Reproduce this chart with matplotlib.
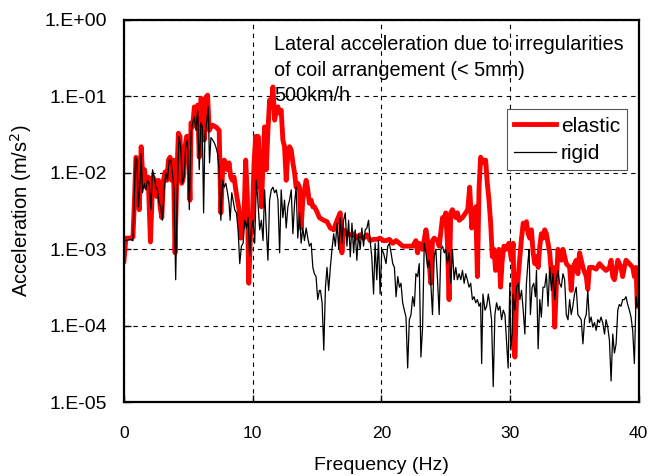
import numpy as np
import matplotlib
matplotlib.use("Agg")
import matplotlib.pyplot as plt
from matplotlib.ticker import FixedLocator, FuncFormatter, NullLocator

plt.rcParams['font.family'] = ['Liberation Sans', 'DejaVu Sans']
plt.rcParams['font.size'] = 13

# elastic (red) spectrum
freq_elastic = [0.0, 0.15, 0.49, 0.70, 0.83, 0.93, 1.03, 1.19, 1.34, 1.47, 1.60, 1.73, 1.88, 2.06, 2.24, 2.40,
                2.55, 2.68, 2.81, 2.94, 3.07, 3.20, 3.33, 3.46, 3.58, 3.71, 3.84, 3.97, 4.10, 4.23, 4.36, 4.49,
                4.62, 4.75, 4.87, 5.00, 5.13, 5.21, 5.34, 5.47, 5.60, 5.73, 5.85, 5.98, 6.11, 6.24, 6.37, 6.50,
                6.63, 6.76, 6.89, 7.14, 7.40, 7.53, 7.66, 7.79, 7.92, 8.05, 8.17, 8.30, 8.43, 8.56, 8.69, 8.82,
                8.95, 9.08, 9.21, 9.34, 9.46, 9.59, 9.70, 9.85, 9.98, 10.11, 10.24, 10.29, 10.42, 10.55, 10.68,
                10.81, 10.93, 11.06, 11.19, 11.32, 11.45, 11.58, 11.71, 11.84, 11.97, 12.10, 12.22, 12.35, 12.48,
                12.61, 12.74, 12.87, 13.00, 13.13, 13.26, 13.38, 13.51, 13.64, 13.77, 13.90, 14.03, 14.16, 14.29,
                14.41, 14.55, 14.68, 14.80, 14.93, 15.19, 15.53, 15.78, 16.04, 16.30, 16.56, 16.81, 16.94, 17.07,
                17.33, 17.59, 17.85, 18.10, 18.36, 18.62, 18.88, 19.13, 19.40, 19.65, 19.91, 20.17, 20.37, 20.63,
                20.89, 21.15, 21.41, 21.66, 21.92, 22.18, 22.44, 22.69, 22.82, 22.95, 23.21, 23.47, 23.60, 23.73,
                23.85, 23.98, 24.11, 24.37, 24.50, 24.76, 24.89, 25.01, 25.14, 25.27, 25.40, 25.53, 25.79, 25.92,
                26.05, 26.31, 26.56, 26.72, 26.87, 27.03, 27.21, 27.34, 27.47, 27.60, 27.72, 27.85, 27.98, 28.11,
                28.24, 28.37, 28.50, 28.63, 28.76, 28.88, 29.01, 29.14, 29.27, 29.40, 29.53, 29.66, 29.92, 30.12,
                30.25, 30.38, 30.51, 30.64, 30.90, 31.03, 31.16, 31.28, 31.41, 31.54, 31.67, 31.80, 31.93, 32.06,
                32.19, 32.32, 32.44, 32.57, 32.70, 32.83, 32.96, 33.09, 33.22, 33.35, 33.48, 33.60, 33.73, 33.99,
                34.12, 34.38, 34.64, 34.76, 34.89, 35.15, 35.28, 35.41, 35.67, 35.93, 36.05, 36.18, 36.44, 36.70,
                36.96, 37.21, 37.47, 37.73, 37.86, 37.99, 38.12, 38.38, 38.63, 38.76, 38.89, 39.02, 39.28, 39.54,
                39.67, 39.80, 39.90]
acc_elastic = [7.0e-4, 1.4e-3, 1.4e-3, 1.45e-3, 5.0e-3, 1.6e-2, 1.5e-2, 3.3e-3, 2.2e-2, 8.0e-3, 1.1e-2, 6.5e-3,
               8.8e-3, 1.25e-3, 8.8e-3, 8.0e-3, 4.9e-3, 8.0e-3, 3.6e-3, 2.6e-3, 8.0e-3, 1.03e-2, 8.0e-3, 1.47e-2,
               1.6e-2, 8.0e-3, 1.47e-2, 9.0e-4, 8.0e-3, 3.3e-2, 3.0e-2, 7.3e-3, 8.8e-3, 2.2e-2, 3.0e-2, 3.0e-2,
               4.4e-3, 4.5e-2, 4.0e-2, 7.3e-2, 4.9e-2, 7.7e-2, 1.6e-2, 9.5e-2, 9.0e-2, 2.7e-2, 9.8e-2, 1.04e-1,
               3.6e-2, 4.0e-2, 4.2e-2, 4.0e-2, 3.6e-2, 3.0e-3, 1.0e-2, 1.47e-2, 1.35e-2, 1.1e-2, 1.35e-2, 8.8e-3,
               8.0e-3, 8.8e-3, 6.0e-3, 4.4e-3, 3.3e-3, 1.4e-3, 2.2e-3, 3.0e-3, 1.47e-2, 4.9e-3, 3.6e-4, 1.9e-3,
               2.4e-3, 1.35e-2, 3.0e-2, 6.5e-3, 3.0e-2, 1.1e-2, 3.6e-3, 1.35e-2, 4.0e-2, 1.1e-2, 3.6e-2, 9.0e-2,
               7.3e-2, 1.33e-1, 4.9e-2, 6.6e-2, 7.3e-2, 6.0e-2, 6.6e-2, 2.7e-2, 2.2e-2, 8.0e-3, 1.8e-2, 2.2e-2,
               2.0e-2, 1.35e-2, 1.0e-2, 6.5e-3, 7.3e-3, 6.5e-3, 1.9e-3, 4.4e-3, 6.0e-3, 8.0e-3, 6.0e-3, 4.0e-3,
               4.4e-3, 3.6e-3, 3.6e-3, 3.3e-3, 2.6e-3, 2.4e-3, 2.3e-3, 1.9e-3, 1.8e-3, 2.4e-3, 3.0e-3, 9.0e-4,
               1.8e-3, 1.6e-3, 1.55e-3, 1.6e-3, 1.4e-3, 1.55e-3, 1.4e-3, 1.55e-3, 1.3e-3, 1.35e-3, 1.35e-3,
               1.4e-3, 1.3e-3, 1.3e-3, 1.35e-3, 1.2e-3, 1.3e-3, 1.2e-3, 1.1e-3, 1.1e-3, 1.1e-3, 1.1e-3, 1.3e-3,
               9.0e-4, 1.2e-3, 1.0e-3, 1.8e-3, 1.3e-3, 6.5e-4, 3.6e-4, 1.3e-3, 1.4e-3, 1.3e-3, 1.1e-3, 2.6e-3,
               2.4e-3, 3.0e-3, 1.2e-3, 2.2e-4, 3.0e-3, 3.3e-3, 2.6e-3, 3.0e-3, 2.4e-3, 2.6e-3, 3.0e-3, 3.3e-3,
               6.5e-3, 1.9e-3, 3.0e-3, 3.6e-3, 4.4e-4, 6.5e-3, 1.6e-2, 1.47e-2, 1.35e-2, 1.47e-2, 7.3e-3, 4.4e-3,
               2.2e-3, 8.0e-4, 1.0e-3, 5.3e-4, 5.8e-4, 1.0e-3, 3.2e-4, 7.2e-4, 1.1e-3, 1.0e-3, 1.2e-3, 7.2e-4,
               1.2e-3, 3.9e-5, 2.2e-4, 4.4e-4, 1.4e-3, 2.2e-3, 1.9e-3, 2.3e-3, 1.6e-3, 1.4e-3, 1.8e-3, 9.0e-4,
               6.5e-4, 8.0e-4, 5.8e-4, 1.1e-3, 1.6e-3, 1.4e-3, 1.8e-3, 1.6e-3, 1.2e-3, 9.0e-4, 4.8e-4, 5.8e-4,
               9.6e-5, 3.2e-4, 1.0e-3, 7.2e-4, 1.0e-3, 6.5e-4, 5.8e-4, 2.9e-4, 5.8e-4, 7.2e-4, 4.8e-4, 9.0e-4,
               5.8e-4, 4.4e-4, 3.0e-4, 5.8e-4, 5.8e-4, 5.5e-4, 6.5e-4, 5.8e-4, 5.3e-4, 5.8e-4, 7.2e-4, 4.4e-4,
               4.0e-4, 7.2e-4, 5.8e-4, 4.4e-4, 5.8e-4, 7.2e-4, 6.5e-4, 5.8e-4, 4.4e-4, 5.8e-4, 1.8e-4]

# rigid (black) spectrum
freq_rigid = [0.0, 0.15, 0.49, 0.70, 0.80, 0.90, 1.00, 1.13, 1.26, 1.34, 1.44, 1.57, 1.70, 1.83, 1.96, 2.09,
              2.22, 2.35, 2.48, 2.60, 2.73, 2.86, 2.99, 3.12, 3.25, 3.38, 3.51, 3.64, 3.77, 3.89, 4.02, 4.15,
              4.28, 4.41, 4.54, 4.67, 4.80, 4.93, 5.08, 5.21, 5.34, 5.47, 5.60, 5.73, 5.85, 5.98, 6.09, 6.19,
              6.29, 6.42, 6.55, 6.65, 6.76, 6.89, 7.01, 7.14, 7.27, 7.40, 7.53, 7.66, 7.79, 7.92, 8.05, 8.17,
              8.25, 8.38, 8.48, 8.61, 8.74, 8.87, 9.00, 9.13, 9.26, 9.39, 9.52, 9.65, 9.77, 9.90, 10.03, 10.16,
              10.29, 10.42, 10.55, 10.68, 10.81, 10.93, 11.06, 11.19, 11.32, 11.45, 11.58, 11.71, 11.84, 11.97,
              12.10, 12.22, 12.35, 12.48, 12.61, 12.74, 12.87, 13.00, 13.13, 13.26, 13.38, 13.51, 13.64, 13.77,
              13.90, 14.03, 14.16, 14.29, 14.41, 14.55, 14.68, 14.80, 14.93, 15.06, 15.19, 15.27, 15.40, 15.53,
              15.66, 15.78, 15.91, 16.04, 16.17, 16.30, 16.43, 16.56, 16.69, 16.81, 16.94, 17.07, 17.20, 17.33,
              17.46, 17.59, 17.72, 17.85, 17.97, 18.10, 18.23, 18.36, 18.49, 18.62, 18.75, 18.88, 19.01, 19.13,
              19.26, 19.40, 19.52, 19.65, 19.78, 19.91, 20.04, 20.17, 20.37, 20.50, 20.63, 20.76, 20.89, 21.02,
              21.15, 21.28, 21.41, 21.53, 21.66, 21.79, 21.92, 22.05, 22.18, 22.31, 22.44, 22.57, 22.69, 22.82,
              22.95, 23.08, 23.21, 23.34, 23.47, 23.60, 23.73, 23.85, 23.98, 24.11, 24.24, 24.37, 24.50, 24.63,
              24.76, 24.89, 25.01, 25.14, 25.27, 25.40, 25.53, 25.66, 25.79, 25.92, 26.05, 26.18, 26.31, 26.44,
              26.56, 26.69, 26.82, 26.95, 27.08, 27.21, 27.34, 27.47, 27.60, 27.72, 27.80, 27.90, 28.06, 28.19,
              28.32, 28.45, 28.57, 28.70, 28.83, 28.96, 29.09, 29.22, 29.35, 29.48, 29.61, 29.73, 29.86, 29.99,
              30.07, 30.17, 30.25, 30.38, 30.51, 30.64, 30.77, 30.90, 31.03, 31.16, 31.28, 31.41, 31.49, 31.59,
              31.72, 31.85, 31.98, 32.06, 32.19, 32.32, 32.44, 32.57, 32.70, 32.83, 32.96, 33.09, 33.22, 33.35,
              33.48, 33.60, 33.73, 33.86, 33.99, 34.12, 34.25, 34.38, 34.51, 34.64, 34.76, 34.89, 35.02, 35.15,
              35.28, 35.41, 35.54, 35.67, 35.80, 35.93, 36.05, 36.18, 36.31, 36.44, 36.57, 36.70, 36.83, 36.96,
              37.08, 37.21, 37.35, 37.47, 37.60, 37.73, 37.86, 37.99, 38.12, 38.25, 38.38, 38.50, 38.63, 38.76,
              38.89, 39.02, 39.15, 39.28, 39.41, 39.54, 39.67, 39.80, 39.90]
acc_rigid = [1.3e-3, 1.3e-3, 1.35e-3, 1.3e-3, 4.4e-3, 1.6e-2, 1.47e-2, 3.6e-3, 8.0e-3, 1.8e-2, 5.5e-3, 7.3e-3,
             6.0e-3, 8.0e-3, 7.3e-3, 3.3e-3, 1.1e-2, 8.8e-3, 6.5e-3, 6.0e-3, 4.0e-3, 3.6e-3, 2.4e-3, 6.0e-3,
             1.0e-2, 8.0e-3, 1.47e-2, 1.47e-2, 1.0e-2, 6.0e-3, 4.0e-4, 6.5e-3, 3.0e-2, 2.2e-2, 7.3e-3, 8.8e-3,
             2.2e-2, 2.7e-2, 3.3e-3, 3.3e-2, 4.5e-2, 5.4e-2, 3.6e-2, 6.6e-2, 1.1e-2, 4.5e-2, 4.0e-2, 3.0e-3,
             3.0e-2, 4.5e-2, 7.3e-2, 1.35e-2, 2.9e-2, 2.7e-2, 2.5e-2, 2.2e-2, 1.8e-2, 1.1e-2, 2.4e-3, 8.0e-3,
             6.5e-3, 7.3e-3, 5.5e-3, 4.0e-3, 2.4e-3, 5.5e-3, 4.4e-3, 3.3e-3, 3.0e-3, 1.8e-3, 6.5e-4, 1.1e-3,
             1.2e-3, 2.4e-3, 1.9e-3, 2.6e-3, 8.0e-4, 1.8e-3, 2.4e-3, 1.2e-3, 8.0e-3, 4.0e-3, 1.8e-3, 2.4e-3,
             1.3e-3, 6.0e-3, 1.9e-3, 7.2e-4, 4.4e-3, 6.0e-3, 6.5e-3, 5.5e-3, 6.0e-3, 4.4e-3, 9.0e-4, 6.0e-3,
             2.6e-3, 4.4e-3, 1.9e-3, 3.6e-3, 4.4e-3, 6.0e-3, 1.6e-3, 4.0e-3, 6.5e-3, 1.4e-3, 3.0e-3, 1.2e-3,
             1.9e-3, 1.3e-3, 1.9e-3, 1.4e-3, 1.1e-3, 1.2e-3, 5.8e-4, 4.8e-4, 4.4e-4, 2.2e-4, 2.9e-4, 2.9e-4,
             2.0e-4, 4.8e-5, 3.2e-4, 5.8e-4, 2.9e-4, 5.8e-4, 1.0e-3, 1.6e-3, 1.1e-3, 2.2e-3, 1.0e-3, 2.6e-3,
             1.2e-3, 2.4e-3, 3.0e-3, 1.1e-3, 2.4e-3, 8.0e-4, 2.2e-3, 9.0e-4, 1.8e-3, 7.2e-4, 1.6e-3, 1.0e-3,
             1.9e-3, 1.1e-3, 1.8e-3, 1.9e-3, 2.4e-3, 1.3e-3, 8.0e-4, 2.6e-4, 1.2e-3, 4.0e-4, 1.3e-3, 2.6e-4,
             1.0e-3, 9.0e-4, 6.5e-4, 1.1e-3, 1.2e-3, 9.0e-4, 6.5e-4, 5.8e-4, 2.4e-4, 4.4e-4, 3.2e-4, 3.6e-4,
             2.0e-4, 1.6e-4, 1.3e-4, 2.8e-5, 1.2e-4, 1.4e-4, 2.4e-4, 1.8e-4, 4.8e-4, 4.4e-4, 6.5e-4, 3.9e-5,
             9.6e-5, 1.2e-3, 9.0e-4, 5.8e-4, 7.2e-4, 3.6e-4, 1.4e-4, 8.0e-4, 1.0e-3, 4.0e-4, 1.4e-4, 1.0e-3,
             1.1e-3, 9.0e-4, 1.0e-3, 6.5e-4, 9.0e-4, 3.6e-4, 1.0e-3, 4.0e-4, 5.8e-4, 4.0e-4, 4.8e-4, 4.0e-4,
             5.3e-4, 3.6e-4, 4.8e-4, 4.0e-4, 3.2e-4, 3.6e-4, 2.2e-4, 2.4e-4, 2.0e-4, 2.2e-4, 1.8e-4, 2.0e-4,
             3.2e-5, 2.6e-4, 1.6e-4, 1.8e-4, 2.6e-4, 1.8e-4, 1.2e-4, 1.6e-5, 1.4e-4, 2.0e-4, 1.6e-4, 1.8e-4,
             1.2e-4, 1.6e-4, 1.4e-4, 6.5e-5, 2.8e-5, 3.6e-4, 4.8e-5, 7.8e-5, 2.6e-4, 1.6e-4, 3.2e-4, 3.6e-4,
             2.2e-4, 2.9e-4, 1.6e-4, 7.8e-5, 3.6e-4, 7.2e-4, 1.0e-3, 1.4e-4, 3.2e-4, 3.6e-4, 2.4e-4, 5.3e-4,
             5.0e-5, 2.2e-4, 1.3e-4, 3.2e-4, 3.2e-4, 4.8e-4, 1.8e-4, 5.8e-4, 2.9e-4, 4.8e-4, 2.2e-4, 4.0e-4,
             5.3e-4, 3.6e-4, 3.2e-4, 4.8e-4, 4.0e-4, 1.4e-4, 1.2e-4, 2.2e-4, 1.4e-4, 1.8e-4, 2.6e-4, 3.2e-4,
             1.4e-4, 1.3e-4, 1.2e-4, 5.8e-5, 1.2e-4, 1.4e-4, 2.9e-4, 1.1e-4, 1.3e-4, 9.6e-5, 1.1e-4, 8.7e-5,
             1.2e-4, 1.1e-4, 1.3e-4, 1.1e-4, 7.8e-5, 1.2e-4, 9.6e-5, 6.5e-5, 1.9e-5, 7.8e-5, 4.4e-5, 5.8e-5,
             1.6e-4, 1.9e-4, 1.8e-4, 2.2e-4, 2.2e-4, 2.4e-4, 1.9e-4, 1.6e-4, 1.3e-4, 8.7e-5, 3.2e-5, 2.4e-4,
             1.8e-4]

note_lines = ["Lateral acceleration due to irregularities",
              "of coil arrangement (< 5mm)",
              "500km/h"]
x_ticks = [0, 10, 20, 30, 40]
y_ticks = [1e-5, 1e-4, 1e-3, 1e-2, 1e-1, 1e0]

fig = plt.figure(figsize=(6.49, 4.76), dpi=100)
ax = fig.add_axes([0.191, 0.155, 0.793, 0.803])

ax.plot(freq_elastic, acc_elastic, color='#ff0000', lw=3.5, label='elastic')
ax.plot(freq_rigid, acc_rigid, color='black', lw=0.9, label='rigid')

ax.set_yscale('log')
ax.set_xlim(0, 40)
ax.set_ylim(1e-5, 1e0)
ax.xaxis.set_major_locator(FixedLocator(x_ticks))
ax.yaxis.set_major_locator(FixedLocator(y_ticks))
ax.yaxis.set_minor_locator(NullLocator())
ax.yaxis.set_major_formatter(FuncFormatter(lambda v, p: "1.E%+03d" % int(round(np.log10(v)))))
ax.tick_params(direction='in', length=5, width=1)
ax.tick_params(axis='x', pad=17, labelsize=12.5)
ax.tick_params(axis='y', pad=12, labelsize=14)

ax.grid(True, which='major', color='black', ls=(0, (4, 4)), lw=0.8)
for s in ax.spines.values():
    s.set_linewidth(1.6)

ax.set_xlabel('Frequency (Hz)', fontsize=14, labelpad=12)
ax.set_ylabel('Acceleration (m/s$^2$)', fontsize=14.5, labelpad=8)

for i, line in enumerate(note_lines):
    ax.text(0.292, 0.935 - i * 0.066, line, transform=ax.transAxes, fontsize=14.3, va='center', ha='left')

leg = ax.legend(loc='upper right', bbox_to_anchor=(0.978, 0.766), fontsize=15, frameon=True,
                fancybox=False, edgecolor='#555555', framealpha=1, handlelength=2.0,
                borderpad=0.35, labelspacing=0.4, handletextpad=0.25, borderaxespad=0)
leg.get_frame().set_linewidth(0.8)

fig.savefig('out.png', dpi=100)
